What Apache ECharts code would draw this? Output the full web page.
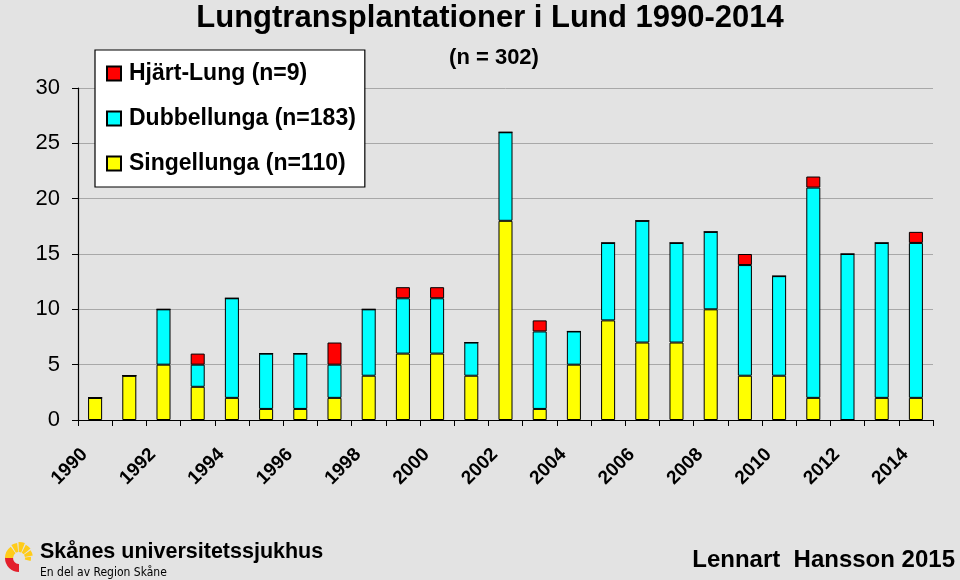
<!DOCTYPE html>
<html><head><meta charset="utf-8">
<script src="https://cdn.jsdelivr.net/npm/echarts@6/dist/echarts.min.js"></script>
<style>html,body{margin:0;padding:0;background:#e3e3e3}#c{width:960px;height:580px}</style>
</head><body><div id="c"></div>
<script>
const years = ['1990','1991','1992','1993','1994','1995','1996','1997','1998','1999','2000','2001','2002','2003','2004','2005','2006','2007','2008','2009','2010','2011','2012','2013','2014'];
const singellunga = [2,4,5,3,2,1,1,2,4,6,6,4,18,1,5,9,7,7,10,4,4,2,0,2,2];
const dubbellunga = [0,0,5,2,9,5,5,3,6,5,5,3,8,7,3,7,11,9,7,10,9,19,15,14,14];
const hjartLung   = [0,0,0,1,0,0,0,2,0,1,1,0,0,1,0,0,0,0,0,1,0,1,0,0,1];
const yTicks = [0,5,10,15,20,25,30];

const FONT = 'Liberation Sans, Arial, sans-serif';
const chart = echarts.init(document.getElementById('c'), null, {renderer:'canvas'});
const barStyle = c => ({color:c, borderColor:'#000', borderWidth:1});

// logo shapes
const logo = [];
const cx = 19, cy = 558;
logo.push({type:'sector', shape:{cx, cy, r0:6, r:14, startAngle:Math.PI*0.5, endAngle:Math.PI*1.02}, style:{fill:'#e3202c'}});
logo.push({type:'sector', shape:{cx, cy, r0:6, r:14, startAngle:Math.PI*1.0, endAngle:Math.PI*1.3}, style:{fill:'#ffcc1a'}});
const rays = [[1.33,1.46,15],[1.49,1.62,16],[1.65,1.78,15],[1.81,1.94,14],[1.97,2.08,12]];
rays.forEach(r => logo.push({type:'sector', shape:{cx, cy, r0:6, r:r[2], startAngle:Math.PI*r[0], endAngle:Math.PI*r[1]}, style:{fill:'#ffcc1a'}}));

chart.setOption({
  backgroundColor:'#e3e3e3',
  animation:false,
  title:[
    {text:'Lungtransplantationer i Lund 1990-2014', left:485, textAlign:'center', top:-2,
     textStyle:{fontFamily:FONT, fontWeight:'bold', fontSize:31, color:'#000'}},
    {text:'(n = 302)', left:489, textAlign:'center', top:42,
     textStyle:{fontFamily:FONT, fontWeight:'bold', fontSize:22, color:'#000'}}
  ],
  legend:{
    orient:'vertical', left:95, top:50,
    backgroundColor:'#fff', borderColor:'#000', borderWidth:1.2, borderRadius:0,
    padding:[12,9,12,11], itemGap:22, itemWidth:14, itemHeight:14,
    data:['Hjärt-Lung (n=9)','Dubbellunga (n=183)','Singellunga (n=110)'],
    textStyle:{fontFamily:FONT, fontWeight:'bold', fontSize:23, color:'#000', padding:[0,0,0,3]},
    icon:'rect'
  },
  grid:{left:78, right:27, top:88, bottom:160, containLabel:false},
  xAxis:{
    type:'category', data:years, boundaryGap:true,
    axisLine:{lineStyle:{color:'#000', width:1.2}},
    axisTick:{show:true, interval:0, length:6, lineStyle:{color:'#000'}},
    axisLabel:{interval:1, rotate:45, margin:21, padding:[0,15,0,0], fontFamily:FONT, fontWeight:'bold', fontSize:19, color:'#000'}
  },
  yAxis:{
    type:'value', min:0, max:30, interval:5,
    axisLine:{show:true, lineStyle:{color:'#000', width:1.2}},
    axisTick:{show:true, length:6, lineStyle:{color:'#000'}},
    axisLabel:{fontFamily:FONT, fontSize:22, color:'#000', margin:18,
      formatter:v => yTicks.includes(v) ? String(v) : ''},
    splitLine:{show:true, lineStyle:{color:'#a8a8a8', width:1}}
  },
  series:[
    {name:'Singellunga (n=110)', type:'bar', stack:'t', data:singellunga, barWidth:'41%', itemStyle:barStyle('#ffff00')},
    {name:'Dubbellunga (n=183)', type:'bar', stack:'t', data:dubbellunga, barWidth:'41%', itemStyle:barStyle('#00ffff')},
    {name:'Hjärt-Lung (n=9)', type:'bar', stack:'t', data:hjartLung, barWidth:'41%', itemStyle:barStyle('#ff0000')}
  ],
  graphic:logo.concat([
    {type:'text', left:40, top:541, style:{text:'Skånes universitetssjukhus', font:'bold 21.5px '+FONT, fill:'#000'}},
    {type:'text', left:40, top:567, style:{text:'En del av Region Skåne', font:'12px "Liberation Sans Narrow", "DejaVu Sans Condensed", Arial, sans-serif', fill:'#000'}},
    {type:'text', right:5, top:548, style:{text:'Lennart  Hansson 2015', font:'bold 24px '+FONT, fill:'#000'}}
  ])
});
</script></body></html>
